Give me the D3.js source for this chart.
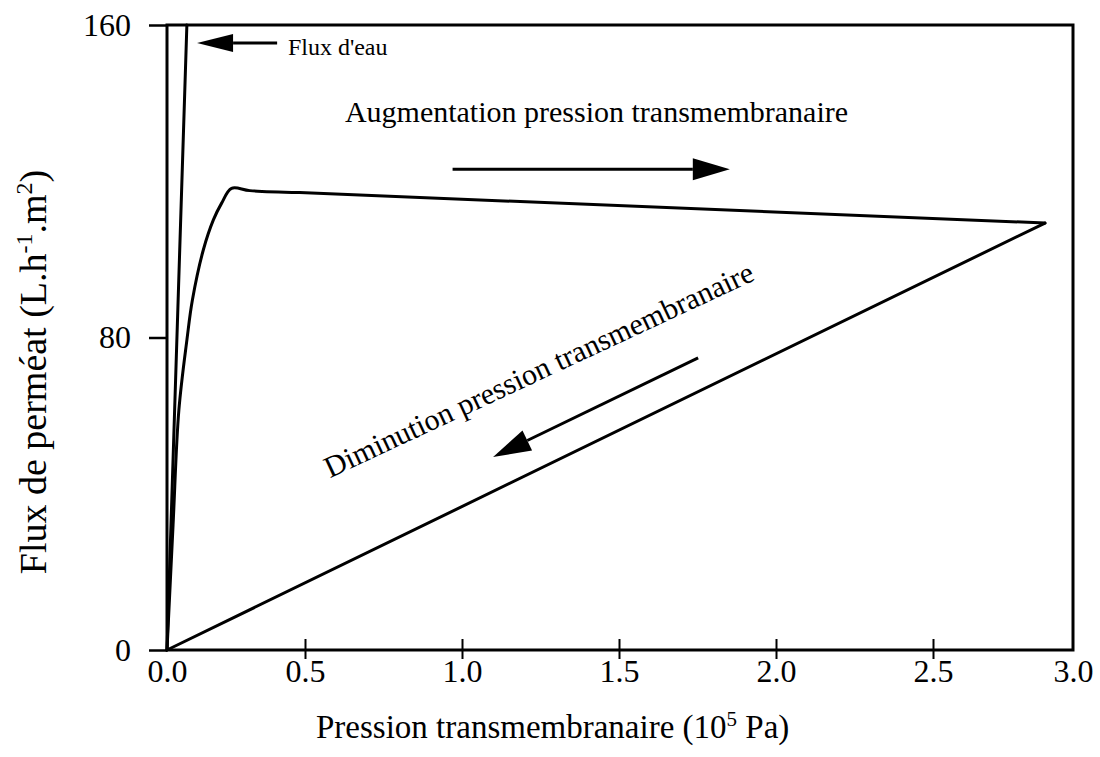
<!DOCTYPE html>
<html><head><meta charset="utf-8">
<script src="https://cdn.jsdelivr.net/npm/d3@7"></script>
<style>
html,body{margin:0;padding:0;background:#fff;}
svg{display:block;}
text{font-family:"Liberation Serif","Times New Roman",serif;fill:#000;}
</style></head>
<body>
<svg id="chart" width="1100" height="757"></svg>
<script>
// ---- data ----
const xTickValues = [0, 0.5, 1.0, 1.5, 2.0, 2.5, 3.0];
const yTickValues = [0, 80, 160];
// water flux
const waterX = [0, 0.072];
const waterY = [0, 160];
// increasing transmembrane pressure
const incX = [0, 0.022, 0.043, 0.0725, 0.092, 0.1315, 0.168, 0.198, 0.234, 0.30, 0.48, 2.90];
const incY = [0, 32.0, 61.4, 79.6, 89.6, 102.4, 110.1, 114.4, 118.2, 117.6, 117.1, 109.3];
// decreasing transmembrane pressure
const decX = [2.90, 0];
const decY = [109.3, 0];

const svg = d3.select("#chart");
// scanned axis: outer tick intervals narrower than inner ones
const x = d3.scaleLinear().domain([0, 0.5, 2.5, 3.0]).range([167, 305, 933, 1073]);
const y = d3.scaleLinear().domain([0, 160]).range([650, 25]);

// frame
svg.append("rect").attr("x", x(0)).attr("y", y(160))
  .attr("width", x(3) - x(0)).attr("height", y(0) - y(160))
  .attr("fill", "none").attr("stroke", "#000").attr("stroke-width", 3);

// y axis
const yAxis = d3.axisLeft(y).tickValues(yTickValues).tickSize(18).tickPadding(18)
  .tickFormat(d3.format("d"));
const gy = svg.append("g").attr("transform", `translate(${x(0)},0)`).call(yAxis);
gy.select(".domain").remove();
gy.selectAll(".tick line").attr("stroke", "#000").attr("stroke-width", 2.5);
gy.selectAll(".tick text").style("font-size", "32px").style("font-family", '"Liberation Serif",serif');

// x axis (ticks cross the axis)
const xAxis = d3.axisBottom(x).tickValues(xTickValues).tickSize(0).tickPadding(9)
  .tickFormat(d3.format(".1f"));
const gx = svg.append("g").attr("transform", `translate(0,${y(0)})`).call(xAxis);
gx.select(".domain").remove();
gx.selectAll(".tick").filter(d => d > 0 && d < 3).append("line")
  .attr("y1", -11).attr("y2", 9).attr("stroke", "#000").attr("stroke-width", 2);
gx.selectAll(".tick text").style("font-size", "32px").style("font-family", '"Liberation Serif",serif');

// curves
const line = d3.line().x(d => x(d[0])).y(d => y(d[1]));
const smooth = d3.line().x(d => x(d[0])).y(d => y(d[1])).curve(d3.curveCatmullRom.alpha(0.5));
const series = [
  {xs: waterX, ys: waterY, gen: line},
  {xs: incX.slice(0, 11), ys: incY.slice(0, 11), gen: smooth},
  {xs: incX.slice(10), ys: incY.slice(10), gen: line},
  {xs: decX, ys: decY, gen: line}
];
series.forEach(s => {
  svg.append("path").datum(s.xs.map((v, i) => [v, s.ys[i]]))
    .attr("d", s.gen).attr("fill", "none").attr("stroke", "#000")
    .attr("stroke-width", 3).attr("stroke-linejoin", "round").attr("stroke-linecap", "round");
});

// annotations (data coordinates)
const arrows = [
  {from: [0.399, 155.4], to: [0.109, 155.4], head: 36, half: 9},
  {from: [0.97, 123.1], to: [1.853, 123.1], head: 37, half: 11},
  {from: [1.752, 74.8], to: [1.099, 49.4], head: 38, half: 11}
];
arrows.forEach(a => {
  const x1 = x(a.from[0]), y1 = y(a.from[1]), x2 = x(a.to[0]), y2 = y(a.to[1]);
  const ang = Math.atan2(y2 - y1, x2 - x1);
  const bx = x2 - a.head * Math.cos(ang), by = y2 - a.head * Math.sin(ang);
  svg.append("line").attr("x1", x1).attr("y1", y1).attr("x2", bx).attr("y2", by)
    .attr("stroke", "#000").attr("stroke-width", 3);
  const px = -Math.sin(ang) * a.half, py = Math.cos(ang) * a.half;
  svg.append("path").attr("d", `M${x2},${y2}L${bx + px},${by + py}L${bx - px},${by - py}Z`)
    .attr("fill", "#000");
});

svg.append("text").attr("x", x(0.438)).attr("y", y(152.3))
  .style("font-size", "24px").text("Flux d'eau");
svg.append("text").attr("x", x(0.627)).attr("y", y(135.2))
  .style("font-size", "30px").text("Augmentation pression transmembranaire");
svg.append("text").attr("transform", `translate(${x(0.580)},${y(44.0)}) rotate(-25)`)
  .style("font-size", "30px").text("Diminution pression transmembranaire");

// axis titles
const xt = svg.append("text").attr("x", 316).attr("y", 738).style("font-size", "33px");
xt.append("tspan").text("Pression transmembranaire (10");
xt.append("tspan").attr("dy", -12).style("font-size", "21px").text("5");
xt.append("tspan").attr("dy", 12).text(" Pa)");

const yt = svg.append("text").attr("transform", "translate(46,372) rotate(-90)")
  .attr("text-anchor", "middle").style("font-size", "38px");
yt.append("tspan").text("Flux de perméat (L.h");
yt.append("tspan").attr("dy", -14).style("font-size", "24px").text("-1");
yt.append("tspan").attr("dy", 14).text(".m");
yt.append("tspan").attr("dy", -14).style("font-size", "24px").text("2");
yt.append("tspan").attr("dy", 14).text(")");
</script>
</body></html>
